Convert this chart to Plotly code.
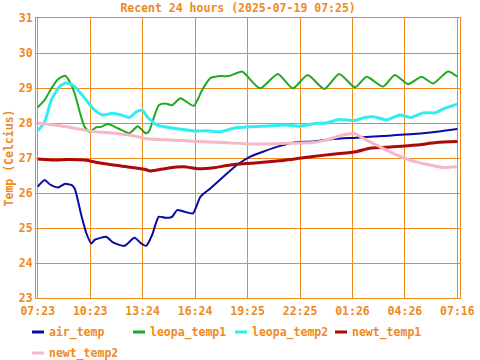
import plotly.graph_objects as go

# hours since 07:23
tick_vals = [0, 3, 6, 9, 12, 15, 18, 21, 24]
tick_text = ["07:23", "10:23", "13:24", "16:24", "19:25", "22:25", "01:26", "04:26", "07:16"]

air_x = [0.0, 0.40, 0.68, 1.16, 1.54, 1.92, 2.11, 2.49, 2.78, 3.06, 3.25, 3.54, 3.92, 4.30, 4.96,
         5.53, 5.91, 6.20, 6.54, 6.92, 7.30, 7.68, 7.97, 8.35, 8.88, 9.30, 9.87, 10.63, 11.39,
         12.15, 12.88, 13.82, 14.77, 15.73, 16.87, 18.20, 19.75, 21.66, 22.80, 24.0]
air_y = [26.18, 26.37, 26.25, 26.16, 26.26, 26.23, 26.13, 25.37, 24.85, 24.56, 24.66, 24.71, 24.75,
         24.59, 24.49, 24.72, 24.56, 24.49, 24.80, 25.32, 25.29, 25.32, 25.51, 25.47, 25.42, 25.89,
         26.13, 26.47, 26.80, 27.04, 27.18, 27.34, 27.45, 27.47, 27.54, 27.58, 27.63, 27.69, 27.75, 27.83]

leo1_x = [0.0, 0.40, 0.78, 1.16, 1.58, 1.88, 2.11, 2.40, 2.68, 2.97, 3.35, 3.63, 4.01, 4.58, 5.25,
          5.72, 6.16, 6.35, 6.92, 7.30, 7.68, 8.16, 8.92, 9.40, 9.87, 10.44, 10.91, 11.68, 11.92,
          12.72, 13.73, 14.59, 15.44, 16.39, 17.24, 18.14, 18.81, 19.75, 20.42, 21.18, 21.95,
          22.61, 23.46, 24.0]
leo1_y = [28.45, 28.66, 28.99, 29.25, 29.35, 29.13, 28.85, 28.32, 27.89, 27.75, 27.88, 27.89, 27.97,
          27.85, 27.71, 27.91, 27.71, 27.75, 28.51, 28.56, 28.51, 28.71, 28.49, 28.94, 29.28, 29.34,
          29.34, 29.47, 29.37, 28.99, 29.40, 28.99, 29.37, 28.97, 29.40, 29.02, 29.32, 29.04, 29.37,
          29.11, 29.32, 29.13, 29.47, 29.32]

leo2_x = [0.0, 0.40, 0.78, 1.25, 1.64, 2.11, 2.68, 3.25, 3.73, 4.30, 4.77, 5.25, 5.63, 5.99, 6.26,
          6.83, 7.78, 8.54, 9.11, 9.68, 10.44, 11.20, 12.15, 13.06, 14.20, 14.96, 15.92, 16.49,
          17.24, 18.14, 18.71, 19.18, 19.95, 20.71, 21.37, 22.04, 22.70, 23.27, 24.0]
leo2_y = [27.78, 28.04, 28.66, 29.04, 29.15, 29.04, 28.71, 28.37, 28.23, 28.28, 28.23, 28.16, 28.32,
          28.36, 28.18, 27.94, 27.85, 27.80, 27.77, 27.78, 27.75, 27.85, 27.89, 27.91, 27.94, 27.91,
          27.99, 28.00, 28.10, 28.07, 28.16, 28.18, 28.09, 28.23, 28.16, 28.29, 28.29, 28.42, 28.54]

newt1_x = [0.0, 0.97, 1.73, 2.68, 3.63, 4.77, 6.10, 6.45, 7.40, 8.35, 9.20, 10.06, 11.01, 12.15,
           13.82, 15.73, 16.87, 18.20, 19.00, 20.33, 21.66, 22.80, 24.0]
newt1_y = [26.97, 26.94, 26.96, 26.94, 26.85, 26.77, 26.68, 26.63, 26.71, 26.75, 26.69, 26.72, 26.80,
           26.85, 26.92, 27.04, 27.11, 27.18, 27.28, 27.32, 27.37, 27.44, 27.47]

newt2_x = [0.0, 0.97, 2.11, 3.25, 4.39, 5.53, 6.10, 7.78, 9.11, 10.63, 12.15, 13.06, 14.20, 15.73,
           16.49, 17.24, 17.86, 18.20, 18.61, 19.38, 20.33, 21.28, 22.23, 23.18, 24.0]
newt2_y = [28.00, 27.94, 27.85, 27.75, 27.71, 27.63, 27.56, 27.51, 27.47, 27.44, 27.40, 27.40, 27.42,
           27.44, 27.51, 27.63, 27.69, 27.69, 27.56, 27.37, 27.13, 26.94, 26.82, 26.73, 26.75]

ORANGE = "#ee8a1e"
FONT = "DejaVu Sans Mono"

series = [
    ("air_temp", air_x, air_y, "#0a0aa0", 2),
    ("leopa_temp1", leo1_x, leo1_y, "#1eaa1e", 2),
    ("leopa_temp2", leo2_x, leo2_y, "#30eef0", 3),
    ("newt_temp1", newt1_x, newt1_y, "#aa0a0a", 3),
    ("newt_temp2", newt2_x, newt2_y, "#f5b8c8", 3),
]

W, H = 480, 360
ML, MR, MT, MB = 36, 20, 18, 62
PW, PH = W - ML - MR, H - MT - MB


def px_x(px):
    return (px - ML) / PW


def px_y(py):
    return (H - MB - py) / PH


fig = go.Figure()
for name, xs, ys, col, w in series:
    fig.add_trace(go.Scatter(x=xs, y=ys, name=name, mode="lines", showlegend=False,
                             line=dict(color=col, width=w, shape="spline", smoothing=0.6)))

tfont = dict(family=FONT, size=11.5, color=ORANGE, weight="bold")
axis_common = dict(showgrid=True, gridcolor=ORANGE, gridwidth=1, showline=True, linecolor=ORANGE,
                   linewidth=1, mirror=True, zeroline=False, ticks="", automargin=False,
                   tickfont=tfont)

fig.update_xaxes(range=[-0.1, 24.15], tickmode="array", tickvals=tick_vals, ticktext=tick_text,
                 ticklabelstandoff=2, **axis_common)
fig.update_yaxes(range=[23, 31], dtick=1,
                 title=dict(text="Temp (Celcius)", standoff=2, font=tfont),
                 **axis_common)

# legend drawn as short line samples + labels (layout positions)
legend_pos = [(32, 332), (133, 332), (235, 332), (335, 332), (32, 353)]
for (name, _, _, col, _), (lx, ly) in zip(series, legend_pos):
    fig.add_shape(type="line", xref="paper", yref="paper",
                  x0=px_x(lx), x1=px_x(lx + 12), y0=px_y(ly), y1=px_y(ly),
                  line=dict(color=col, width=3))
    fig.add_annotation(xref="paper", yref="paper", x=px_x(lx + 15), y=px_y(ly),
                       xanchor="left", yanchor="middle", text=name, showarrow=False,
                       font=tfont)

fig.update_layout(
    width=W, height=H,
    margin=dict(l=ML, r=MR, t=MT, b=MB),
    paper_bgcolor="white", plot_bgcolor="white",
    title=dict(text="Recent 24 hours (2025-07-19 07:25)", x=0.496, xanchor="center",
               y=1 - 8 / H, yanchor="middle", font=tfont),
    showlegend=False,
)

fig.write_html("out.html", config={"displayModeBar": False},
               post_script="document.body.style.margin='0';")
